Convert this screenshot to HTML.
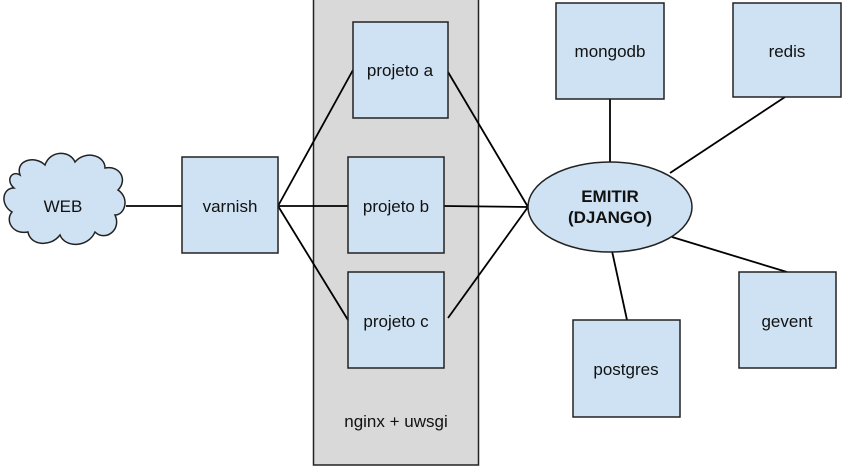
<!DOCTYPE html>
<html><head><meta charset="utf-8"><style>
body{margin:0;background:#fff;}
svg{display:block;}
text{font-family:"Liberation Sans",Arial,sans-serif;font-size:17px;fill:#111;}
</style></head><body>
<svg width="848" height="470" viewBox="0 0 848 470">
<rect x="313.5" y="-2" width="165" height="467" fill="#d9d9d9" stroke="#222" stroke-width="1.5"/>
<g stroke="#000" stroke-width="1.8" fill="none">
<line x1="126" y1="206" x2="182" y2="206"/>
<line x1="278" y1="206" x2="353" y2="70"/>
<line x1="278" y1="206" x2="348" y2="206"/>
<line x1="278" y1="206" x2="348" y2="320"/>
<line x1="448" y1="72" x2="528" y2="207"/>
<line x1="444" y1="206" x2="528" y2="207"/>
<line x1="448" y1="318" x2="528" y2="207"/>
<line x1="610" y1="99" x2="610" y2="163"/>
<line x1="785" y1="97" x2="670" y2="173"/>
<line x1="787" y1="272" x2="672" y2="237"/>
<line x1="627" y1="320" x2="612" y2="251"/>
</g>
<g fill="#cfe2f3" stroke="#222" stroke-width="1.5">
<rect x="182" y="157" width="96" height="96"/>
<rect x="353" y="22" width="95" height="96"/>
<rect x="348" y="157" width="96" height="96"/>
<rect x="348" y="272" width="96" height="96"/>
<rect x="556" y="3" width="108" height="96"/>
<rect x="733" y="3" width="108" height="94"/>
<rect x="739" y="272" width="97" height="96"/>
<rect x="573" y="320" width="107" height="97"/>
<ellipse cx="610" cy="207" rx="82" ry="45"/>
<path d="M20,175 C15,160 35,155 45,165 C50,150 70,150 75,162 C85,150 105,155 105,168 C120,165 128,180 118,190 C130,198 125,215 115,215 C122,230 105,242 95,232 C88,248 65,248 60,235 C50,248 30,245 28,232 C12,235 5,220 12,212 C0,205 2,188 14,188 C5,180 12,170 20,175 Z"/>
</g>
<g text-anchor="middle">
<text x="63" y="212">WEB</text>
<text x="230" y="212">varnish</text>
<text x="400" y="76">projeto a</text>
<text x="396" y="212">projeto b</text>
<text x="396" y="327">projeto c</text>
<text x="610" y="57">mongodb</text>
<text x="787" y="57">redis</text>
<text x="787" y="327">gevent</text>
<text x="626" y="375">postgres</text>
<text x="396" y="427">nginx + uwsgi</text>
<text x="610" y="202" font-weight="bold" font-size="17.5">EMITIR</text>
<text x="610" y="223" font-weight="bold" font-size="17.5">(DJANGO)</text>
</g>
</svg>
</body></html>
